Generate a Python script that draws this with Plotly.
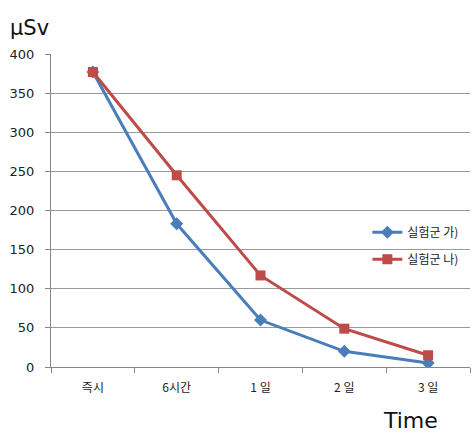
import plotly.graph_objects as go

# Dose readings (μSv) over time for the two experimental groups
categories = ["즉시", "6시간", "1 일", "2 일", "3 일"]
group_a = [377, 183, 60, 20, 5]
group_b = [377, 245, 117, 49, 15]
series_names = ["실험군 가)", "실험군 나)"]
y_ticks = [0, 50, 100, 150, 200, 250, 300, 350, 400]

FONT = "Noto Sans CJK KR, Dotum, sans-serif"
BLUE = "#4A7EBB"
RED = "#BE4B48"
GRID = "#9A9A9A"
AXIS = "#868686"

fig = go.Figure()
fig.add_trace(go.Scatter(
    x=categories, y=group_a, name=series_names[0], mode="lines+markers",
    line=dict(color=BLUE, width=3),
    marker=dict(symbol="diamond", size=10, color=BLUE),
    legendgroup="a",
))
fig.add_trace(go.Scatter(
    x=categories, y=group_b, name=series_names[1], mode="lines+markers",
    line=dict(color=RED, width=3),
    marker=dict(symbol="square", size=10, color=RED),
    legendgroup="b",
))

fig.update_layout(
    width=476, height=435,
    margin=dict(l=51, r=6, t=54, b=68),
    paper_bgcolor="white", plot_bgcolor="white",
    font=dict(family=FONT, size=12, color="#222222"),
    showlegend=True,
    legend=dict(
        x=0.755, xanchor="left", y=0.387, yanchor="middle",
        bgcolor="rgba(0,0,0,0)", borderwidth=0,
        font=dict(size=12, color="#222222", family=FONT),
        tracegroupgap=8,
    ),
    xaxis=dict(
        type="category", range=[-0.5, 4.5],
        showgrid=False, showline=True, linecolor=AXIS, linewidth=1,
        ticks="outside", tickson="boundaries", ticklen=5, tickcolor=AXIS,
        ticklabelstandoff=10,
        tickfont=dict(size=12, family=FONT, color="#222222"),
        fixedrange=True, zeroline=False,
    ),
    yaxis=dict(
        range=[0, 400], tickvals=y_ticks,
        showgrid=True, gridcolor=GRID, gridwidth=1,
        showline=True, linecolor=AXIS, linewidth=1,
        ticks="outside", ticklen=5, tickcolor=AXIS,
        ticklabelstandoff=8,
        tickfont=dict(size=13, family="DejaVu Sans, Verdana, sans-serif", color="#222222"),
        zeroline=False,
    ),
    annotations=[
        dict(text="μSv", xref="paper", yref="paper", x=-0.103, y=1.083,
             xanchor="left", yanchor="middle", showarrow=False,
             font=dict(size=21, family="DejaVu Sans, sans-serif", color="#111111")),
        dict(text="Time", xref="paper", yref="paper", x=0.928, y=-0.172,
             xanchor="right", yanchor="middle", showarrow=False,
             font=dict(size=22, family="DejaVu Sans, sans-serif", color="#111111")),
    ],
)

fig.write_html("out.html")
